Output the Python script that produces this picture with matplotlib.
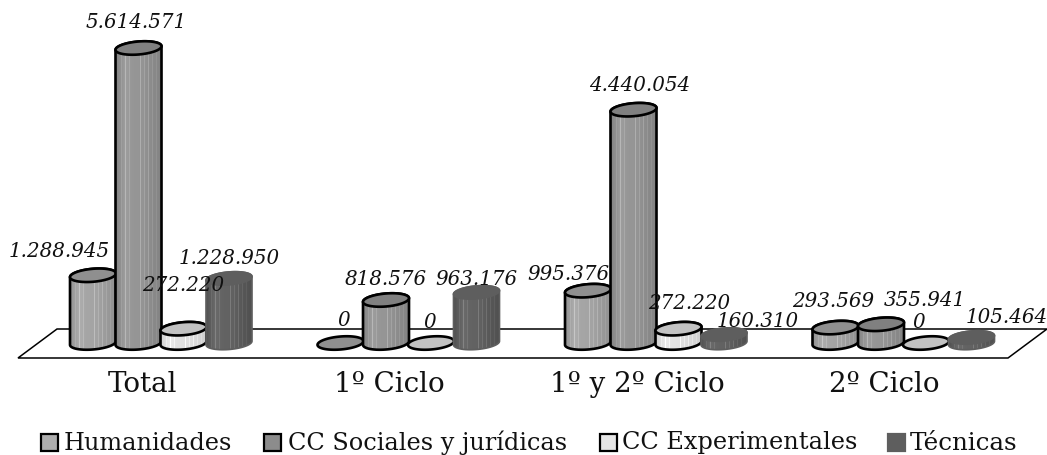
import numpy as np
import matplotlib
matplotlib.use("Agg")
import matplotlib.pyplot as plt
from matplotlib.patches import Polygon, Rectangle

categories = ["Total", "1º Ciclo", "1º y 2º Ciclo", "2º Ciclo"]
series_names = ["Humanidades", "CC Sociales y jurídicas", "CC Experimentales", "Técnicas"]
humanidades = [1288945, 0, 995376, 293569]
sociales = [5614571, 818576, 4440054, 355941]
experimentales = [272220, 0, 272220, 0]
tecnicas = [1228950, 963176, 160310, 105464]
series_values = [humanidades, sociales, experimentales, tecnicas]

# styling per series: side base grey, top grey, outline colour
side_grey = [0.62, 0.56, 0.86, 0.36]
top_grey = [0.56, 0.50, 0.76, 0.37]
outlines = ["black", "black", "black", None]
legend_grey = [0.68, 0.55, 0.90, 0.37]

# label offsets in pixels from the cylinder top centre (dx, dy downwards)
label_offsets = [
    [(-34, -24), (-2, -26), (0, -43), (0, -20)],
    [(3, -23), (0, -20), (-1, -20), (0, -13)],
    [(-20, -16), (6, -24), (11, -25), (34, -13)],
    [(-2, -26), (44, -24), (-7, -21), (35, -20)],
]

W, H = 1047, 455
fig = plt.figure(figsize=(W / 100, H / 100), dpi=100)
ax = fig.add_axes([0, 0, 1, 1])
ax.set_axis_off()

# scales: one group unit = 247.5 px, base of the bars at pixel row 343
PX_GROUP = 247.5
X0 = 161
Y0 = 343
PX_VALUE = 295 / 5614571
ax.set_xlim(-X0 / PX_GROUP, (W - X0) / PX_GROUP)
ax.set_ylim((Y0 - H) / PX_VALUE, Y0 / PX_VALUE)
offsets = np.array([-68, -22.5, 22.5, 68]) / PX_GROUP
RX, RY, TILT = 23, 6.5, 0.08


def pts(xc, v, dx, dy):
    return np.column_stack([xc + np.asarray(dx) / PX_GROUP, v + np.asarray(dy) / PX_VALUE])


def ell(t):
    dx = RX * np.cos(t)
    return dx, RY * np.sin(t) + TILT * dx


def stripes(base, n=46):
    u = np.linspace(0, 1, n)
    prof = base + np.interp(u, [0, .2, .35, .6, 1], [-.04, .06, .03, .02, -.05])
    for s, a in [(.12, .05), (.2, .1), (.29, .06), (.55, .1), (.64, .06), (.72, .08), (.8, .05), (.9, .04)]:
        prof[int(s * (n - 1))] += a
    prof = np.clip(prof, 0, 1)
    return np.dstack([prof, prof, prof]).reshape(1, n, 3)


# floor
floor = np.array([[18, 358], [57, 329], [1047, 329], [1008, 358]], float)
ax.add_patch(Polygon(np.column_stack([floor[:, 0] / W, 1 - floor[:, 1] / H]), closed=True, fill=False,
                     ec="black", lw=1.1, transform=ax.transAxes, zorder=1))

z = 2
for g in range(len(categories)):
    for s in range(len(series_values)):
        v = series_values[s][g]
        xc = g + offsets[s]
        lw = 1.9 if outlines[s] else 1.2
        ec = outlines[s] or (top_grey[s],) * 3
        t_front = np.linspace(np.pi, 2 * np.pi, 50)
        t_top = np.linspace(0, np.pi, 50)
        bx, by = ell(t_front)
        tx, ty = ell(t_top)
        if v > 0:
            body = np.vstack([pts(xc, 0, bx, by), pts(xc, v, tx, ty)])
            poly = Polygon(body, closed=True, fc="none", ec=ec, lw=lw, zorder=z + 0.2, joinstyle="round")
            im = ax.imshow(stripes(side_grey[s]), extent=[xc - RX / PX_GROUP, xc + RX / PX_GROUP,
                                                         -RY * 2 / PX_VALUE, v + RY * 2 / PX_VALUE],
                           aspect="auto", zorder=z, interpolation="nearest")
            clip = Polygon(body, closed=True, transform=ax.transData)
            im.set_clip_path(clip)
            ax.add_patch(poly)
        t = np.linspace(0, 2 * np.pi, 100)
        ex, ey = ell(t)
        ax.add_patch(Polygon(pts(xc, v, ex, ey), closed=True, fc=(top_grey[s],) * 3, ec=ec, lw=lw, zorder=z + 0.4))
        z += 1

ax.set_xlim(-X0 / PX_GROUP, (W - X0) / PX_GROUP)
ax.set_ylim((Y0 - H) / PX_VALUE, Y0 / PX_VALUE)

SERIF = "DejaVu Serif"
for g in range(len(categories)):
    for s in range(len(series_values)):
        v = series_values[s][g]
        dx, dy = label_offsets[g][s]
        txt = f"{v:,}".replace(",", ".")
        ax.annotate(txt, (g + offsets[s], v), xytext=(dx * 0.72, -dy * 0.72), textcoords="offset points",
                    ha="center", va="center", style="italic", family=SERIF, fontsize=14.3,
                    color="#111111", zorder=200)
    ax.annotate(categories[g], (g, 0), xytext=(-19 * 0.72, -42 * 0.72), textcoords="offset points",
                ha="center", va="center", family=SERIF, fontsize=20, color="#111111", zorder=200)

# legend
leg_sq = [41, 264, 600, 888]
leg_tx = [64, 288, 622, 910]
leg_size = [17.3, 17.3, 17.3, 17.7]
for x, tx, name, grey, out, fs in zip(leg_sq, leg_tx, series_names, legend_grey, outlines, leg_size):
    ax.add_patch(Rectangle((x / W, 1 - 451 / H), 17 / W, 17 / H, transform=ax.transAxes,
                           fc=(grey,) * 3, ec=out or (grey,) * 3, lw=1.6, zorder=200))
    ax.text(tx / W, 1 - 443 / H, name, transform=ax.transAxes, ha="left", va="center",
            family=SERIF, fontsize=fs, color="#111111", zorder=200)

fig.savefig("out.png", dpi=100)
